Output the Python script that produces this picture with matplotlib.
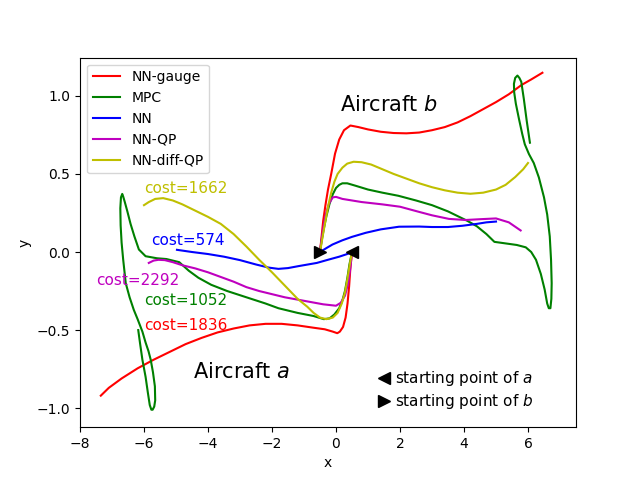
import matplotlib.pyplot as plt
from matplotlib.lines import Line2D

# trajectories of aircraft a (start at (0.5, 0)) and aircraft b (start at (-0.5, 0))
# NN-gauge
gauge_a_x = [0.5, 0.45, 0.41, 0.36, 0.3, 0.22, 0.12, 0.04, -0.1, -0.35, -0.7, -1.2, -1.7, -2.2, -2.7, -3.2,
             -3.7, -4.2, -4.7, -5.2, -5.7, -6.2, -6.7, -7.1, -7.35]
gauge_a_y = [0, -0.1, -0.22, -0.33, -0.42, -0.48, -0.51, -0.52, -0.51, -0.495, -0.485, -0.47, -0.46, -0.46,
             -0.47, -0.49, -0.515, -0.55, -0.59, -0.64, -0.69, -0.745, -0.81, -0.87, -0.92]
gauge_b_x = [-0.5, -0.45, -0.4, -0.33, -0.25, -0.15, -0.03, 0.1, 0.25, 0.45, 0.7, 1.0, 1.4, 1.8, 2.2, 2.6,
             3.0, 3.4, 3.8, 4.2, 4.6, 5.0, 5.4, 5.8, 6.1, 6.45]
gauge_b_y = [0, 0.1, 0.2, 0.3, 0.4, 0.5, 0.63, 0.72, 0.78, 0.81, 0.8, 0.785, 0.77, 0.762, 0.76, 0.765,
             0.78, 0.8, 0.83, 0.87, 0.915, 0.96, 1.01, 1.07, 1.105, 1.148]

# MPC
mpc_a_x = [0.5, 0.42, 0.36, 0.28, 0.2, 0.1, -0.05, -0.2, -0.38, -0.7, -1.2, -1.8, -2.2, -2.8, -3.4, -3.9,
           -4.3, -4.6, -4.9, -5.3, -5.6, -5.95, -6.16, -6.3, -6.42, -6.52, -6.6, -6.65, -6.68, -6.72, -6.74,
           -6.73, -6.7, -6.65, -6.57, -6.45, -6.32, -6.2, -6.05, -5.95, -5.86, -5.79, -5.72, -5.66, -5.65,
           -5.68, -5.73, -5.77, -5.82, -5.88, -5.95, -6.05, -6.12, -6.18]
mpc_a_y = [0, -0.08, -0.16, -0.25, -0.31, -0.36, -0.4, -0.425, -0.43, -0.41, -0.39, -0.36, -0.33, -0.29,
           -0.25, -0.21, -0.165, -0.12, -0.065, -0.045, -0.04, -0.027, 0.016, 0.1, 0.18, 0.26, 0.32, 0.355,
           0.372, 0.35, 0.28, 0.17, 0.06, -0.05, -0.2, -0.29, -0.37, -0.43, -0.51, -0.58, -0.635, -0.69,
           -0.77, -0.86, -0.95, -0.99, -1.01, -1.01, -0.98, -0.9, -0.8, -0.69, -0.59, -0.5]
mpc_b_x = [-0.5, -0.45, -0.38, -0.3, -0.2, -0.1, 0.0, 0.1, 0.2, 0.35, 0.6, 1.0, 1.45, 1.95, 2.5, 3.0, 3.5,
           3.8, 4.1, 4.4, 4.7, 4.95, 5.3, 5.65, 5.93, 6.1, 6.25, 6.4, 6.52, 6.6, 6.65, 6.7, 6.73, 6.74, 6.72,
           6.68, 6.6, 6.5, 6.34, 6.18, 6.03, 5.9, 5.82, 5.72, 5.62, 5.57, 5.56, 5.6, 5.67, 5.73, 5.79, 5.87,
           5.96, 6.06]
mpc_b_y = [0, 0.07, 0.15, 0.23, 0.31, 0.37, 0.41, 0.43, 0.44, 0.44, 0.425, 0.4, 0.38, 0.36, 0.33, 0.3,
           0.26, 0.23, 0.2, 0.165, 0.115, 0.065, 0.055, 0.045, 0.03, 0.0, -0.05, -0.14, -0.24, -0.33, -0.36,
           -0.36, -0.3, -0.2, -0.05, 0.1, 0.24, 0.35, 0.477, 0.57, 0.627, 0.69, 0.756, 0.85, 0.95, 1.02,
           1.077, 1.115, 1.13, 1.115, 1.09, 0.98, 0.84, 0.70]

# NN
nn_a_x = [0.5, 0.35, 0.1, -0.22, -0.6, -1.16, -1.5, -1.8, -2.1, -2.5, -3.0, -3.5, -4.0, -4.5, -4.97]
nn_a_y = [0, -0.013, -0.03, -0.048, -0.07, -0.09, -0.103, -0.108, -0.1, -0.08, -0.052, -0.03, -0.013, 0.0,
          0.014]
nn_b_x = [-0.5, -0.3, -0.11, 0.2, 0.5, 0.93, 1.4, 1.97, 2.6, 3.0, 3.5, 3.95, 4.4, 4.7, 5.0]
nn_b_y = [0, 0.025, 0.048, 0.075, 0.097, 0.123, 0.145, 0.162, 0.163, 0.16, 0.16, 0.168, 0.18, 0.19, 0.195]

# NN-QP
qp_a_x = [0.5, 0.45, 0.38, 0.28, 0.15, 0.0, -0.4, -0.8, -1.2, -1.6, -2.0, -2.4, -2.8, -3.2, -3.6, -4.0,
          -4.4, -4.8, -5.1, -5.35, -5.55, -5.7, -5.85]
qp_a_y = [0, -0.1, -0.2, -0.28, -0.325, -0.344, -0.335, -0.32, -0.305, -0.29, -0.27, -0.25, -0.225, -0.19,
          -0.16, -0.13, -0.105, -0.085, -0.065, -0.052, -0.05, -0.055, -0.07]
qp_b_x = [-0.5, -0.45, -0.4, -0.32, -0.22, -0.1, 0.0, 0.2, 0.41, 0.8, 1.45, 2.0, 2.54, 3.0, 3.53, 4.05,
          4.5, 5.0, 5.4, 5.77]
qp_b_y = [0, 0.08, 0.15, 0.24, 0.31, 0.35, 0.353, 0.34, 0.333, 0.32, 0.305, 0.29, 0.26, 0.235, 0.212,
          0.205, 0.21, 0.215, 0.19, 0.138]

# NN-diff-QP
dqp_a_x = [0.5, 0.43, 0.36, 0.28, 0.18, 0.05, -0.1, -0.3, -0.5, -0.7, -0.9, -1.2, -1.6, -2.0, -2.4, -2.8,
           -3.2, -3.6, -4.0, -4.4, -4.8, -5.1, -5.4, -5.65, -5.85, -6.0]
dqp_a_y = [0, -0.08, -0.17, -0.26, -0.33, -0.39, -0.42, -0.43, -0.42, -0.39, -0.35, -0.3, -0.215, -0.13,
           -0.05, 0.035, 0.115, 0.18, 0.225, 0.265, 0.305, 0.33, 0.345, 0.34, 0.32, 0.30]
dqp_b_x = [-0.5, -0.45, -0.4, -0.33, -0.25, -0.15, -0.05, 0.05, 0.2, 0.35, 0.55, 0.8, 1.1, 1.45, 1.8, 2.2,
           2.6, 3.0, 3.4, 3.8, 4.2, 4.6, 5.0, 5.3, 5.6, 5.85, 6.0]
dqp_b_y = [0, 0.06, 0.12, 0.2, 0.29, 0.38, 0.45, 0.5, 0.54, 0.566, 0.578, 0.575, 0.56, 0.53, 0.5, 0.47,
           0.44, 0.415, 0.395, 0.38, 0.373, 0.38, 0.40, 0.43, 0.48, 0.53, 0.57]

labels = ["NN-gauge", "MPC", "NN", "NN-QP", "NN-diff-QP"]
colors = ["r", "g", "b", "m", "y"]
costs = [1836, 1052, 574, 2292, 1662]
cost_pos = [(-6.0, -0.5), (-6.0, -0.34), (-5.78, 0.045), (-7.5, -0.21), (-6.0, 0.38)]

start_a = (0.5, 0)
start_b = (-0.5, 0)

trajs = [(gauge_a_x, gauge_a_y, gauge_b_x, gauge_b_y),
         (mpc_a_x, mpc_a_y, mpc_b_x, mpc_b_y),
         (nn_a_x, nn_a_y, nn_b_x, nn_b_y),
         (qp_a_x, qp_a_y, qp_b_x, qp_b_y),
         (dqp_a_x, dqp_a_y, dqp_b_x, dqp_b_y)]

fig, ax = plt.subplots(figsize=(6.4, 4.8), dpi=100)

for (ax_, ay_, bx_, by_), lab, c, cost, pos in zip(trajs, labels, colors, costs, cost_pos):
    ax.plot(ax_, ay_, color=c, label=lab)
    ax.plot(bx_, by_, color=c)
    ax.text(pos[0], pos[1], "cost=%d" % cost, color=c, fontsize=11)

ax.plot(start_a[0], start_a[1], "<", color="k", markersize=8)
ax.plot(start_b[0], start_b[1], ">", color="k", markersize=8)

ax.text(-4.47, -0.81, "Aircraft $a$", fontsize=15)
ax.text(0.13, 0.9, "Aircraft $b$", fontsize=15)

leg1 = ax.legend(loc="upper left")
ax.add_artist(leg1)
handles = [Line2D([], [], marker="<", color="k", linestyle="none", markersize=8),
           Line2D([], [], marker=">", color="k", linestyle="none", markersize=8)]
ax.legend(handles, ["starting point of $a$", "starting point of $b$"], loc="lower left",
          bbox_to_anchor=(0.586, 0.026), borderaxespad=0, frameon=False, fontsize=11,
          handlelength=1.0, handletextpad=0.2, labelspacing=0.3)

ax.set_xlim(-8, 7.5)
ax.set_ylim(-1.122, 1.245)
ax.set_xlabel("x")
ax.set_ylabel("y")

plt.savefig("out.png")
